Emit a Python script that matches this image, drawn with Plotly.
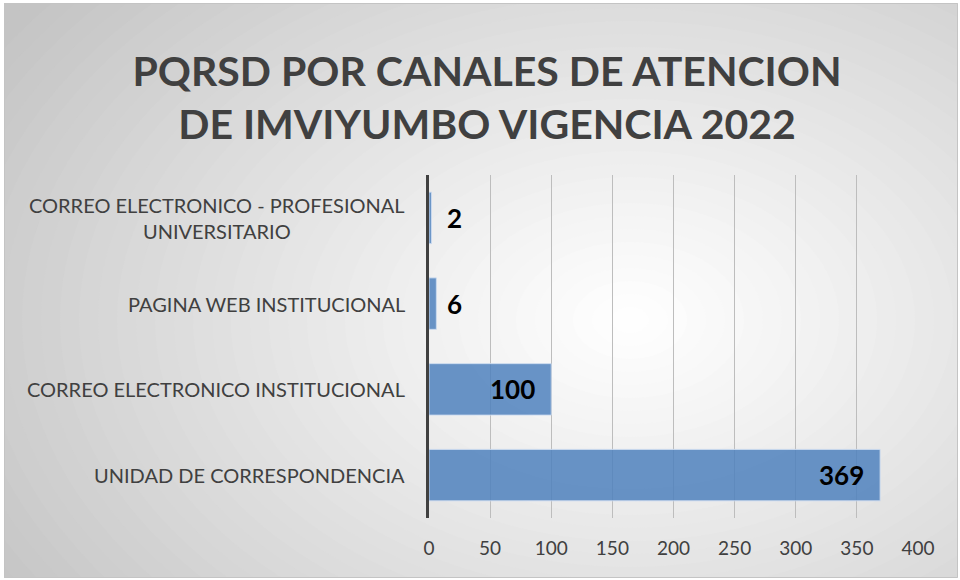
import plotly.graph_objects as go

categories = [
    "UNIDAD DE CORRESPONDENCIA",
    "CORREO ELECTRONICO INSTITUCIONAL",
    "PAGINA WEB INSTITUCIONAL",
    "CORREO ELECTRONICO - PROFESIONAL<br>UNIVERSITARIO",
]
values = [369, 100, 6, 2]
tick_vals = [0, 50, 100, 150, 200, 250, 300, 350, 400]
title_text = "PQRSD POR CANALES DE ATENCION<br>DE IMVIYUMBO VIGENCIA 2022"

W, H = 960, 580
L, R, T, B = 429, 42, 175, 62
PW, PH = W - L - R, H - T - B

FONT = "Lato, Open Sans, sans-serif"


def px_x(px):
    return (px - L) / PW


def px_y(py):
    return (H - B - py) / PH


fig = go.Figure()
fig.add_trace(go.Bar(
    y=categories, x=values, orientation="h",
    marker=dict(color="rgba(79,129,189,0.85)",
                line=dict(color="rgba(205,220,240,0.9)", width=1)),
    width=0.6, hoverinfo="x+y",
))

shapes = []
# radial gradient background (concentric ellipses)
cx, cy = 630, 320
n = 40
rx_max, ry_max = 760, 520
edge, centre = 196, 255
for i in range(n):
    f = 1 - i / n
    rx, ry = rx_max * f, ry_max * f
    c = int(round(centre + (edge - centre) * f ** 1.1))
    shapes.append(dict(
        type="circle", xref="paper", yref="paper", layer="below",
        x0=px_x(cx - rx), x1=px_x(cx + rx), y0=px_y(cy + ry), y1=px_y(cy - ry),
        fillcolor=f"rgb({c},{c},{c})", line=dict(width=0),
    ))
# outer frame
shapes.append(dict(type="rect", xref="paper", yref="paper", layer="above",
                   x0=px_x(4.5), x1=px_x(957.5), y0=px_y(577.5), y1=px_y(3.5),
                   line=dict(color="#c4c4c4", width=1), fillcolor="rgba(0,0,0,0)"))
# white strip outside frame
for (a, b, c_, d) in [(0, 4, 0, 580), (958, 960, 0, 580), (0, 960, 0, 3), (0, 960, 578, 580)]:
    shapes.append(dict(type="rect", xref="paper", yref="paper", layer="below",
                       x0=px_x(a), x1=px_x(b), y0=px_y(d), y1=px_y(c_),
                       fillcolor="white", line=dict(width=0)))

annotations = []
for cat, v in zip(categories, values):
    inside = v > 50
    annotations.append(dict(
        x=v, y=cat, xref="x", yref="y", text=f"<b>{v}</b>", showarrow=False,
        xanchor="right" if inside else "left",
        xshift=-14 if inside else (14 if v < 4 else 9),
        font=dict(family=FONT, size=26, color="black"),
    ))
    annotations.append(dict(
        x=0, y=cat, xref="paper", yref="y", text=cat, showarrow=False,
        xanchor="right", align="center", xshift=-22,
        font=dict(family=FONT, size=20, color="#404040"),
    ))

fig.update_layout(
    width=W, height=H,
    margin=dict(l=L, r=R, t=T, b=B, autoexpand=False),
    paper_bgcolor="rgb(196,196,196)", plot_bgcolor="rgba(0,0,0,0)",
    title=dict(text=f"<b>{title_text}</b>", x=487 / W, xref="container", xanchor="center",
               y=1 - 86 / H, yref="container", yanchor="middle",
               font=dict(family=FONT, size=41, color="#404040")),
    showlegend=False, bargap=0.4,
    xaxis=dict(range=[0, 400], tickvals=tick_vals, showgrid=True,
               gridcolor="#bdbdbd", gridwidth=1.2, zeroline=False,
               ticks="", showline=False,
               tickfont=dict(family=FONT, size=19, color="#404040"),
               ticklabelstandoff=17),
    yaxis=dict(showticklabels=False, showgrid=False, zeroline=False, ticks="",
               showline=True, linecolor="#404040", linewidth=3),
    shapes=shapes, annotations=annotations,
)
fig.add_trace(go.Scatter(x=[400], y=[categories[0]], mode="markers",
                         marker=dict(opacity=0), hoverinfo="skip"))
fig.write_html("out.html", config={"displayModeBar": False},
               post_script="document.body.style.margin='0';document.body.style.overflow='hidden';")
